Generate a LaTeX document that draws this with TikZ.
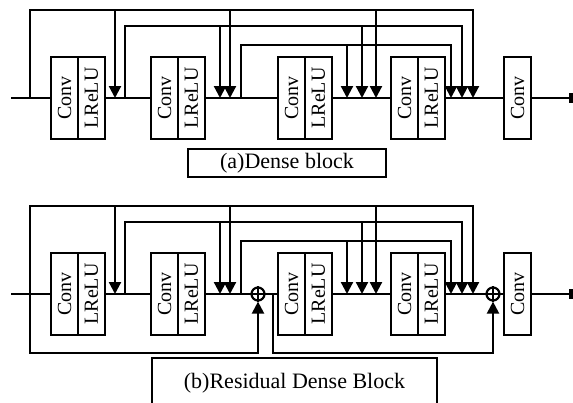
\documentclass[tikz,border=0pt]{standalone}
\usepackage{fontspec}
\setmainfont{Liberation Serif}
\usetikzlibrary{arrows.meta}
\newcommand\drawdense[1]{%
  \node[blk] (#1c1) at (64.5,98)  {\rotatebox{90}{Conv}};
  \node[blk] (#1l1) at (91.5,98)  {\rotatebox{90}{LReLU}};
  \node[blk] (#1c2) at (164.5,98) {\rotatebox{90}{Conv}};
  \node[blk] (#1l2) at (191.5,98) {\rotatebox{90}{LReLU}};
  \node[blk] (#1c3) at (291.5,98) {\rotatebox{90}{Conv}};
  \node[blk] (#1l3) at (318.5,98) {\rotatebox{90}{LReLU}};
  \node[blk] (#1c4) at (404.5,98) {\rotatebox{90}{Conv}};
  \node[blk] (#1l4) at (431.5,98) {\rotatebox{90}{LReLU}};
  \node[blk] (#1c5) at (517.5,98) {\rotatebox{90}{Conv}};
  \coordinate (#1in) at (11,98);
  \coordinate (#1out) at (573,98);
  \coordinate (#1t0) at (30,98);
  \coordinate (#1t1) at (125,98);
  \coordinate (#1t2) at (241,98);
  \coordinate (#1h0) at (0,10);
  \coordinate (#1h1) at (0,26);
  \coordinate (#1h2) at (0,45);
  \foreach \n/\x in {1/115,2/220,3/230,4/347,5/362,6/376,7/451,8/462,9/473}
    {\coordinate (#1a\n) at (\x,98);}
  % outer loop from input
  \draw[arr] (#1t0) |- (#1a9 |- #1h0) -- (#1a9);
  \draw[arr] (#1a1 |- #1h0) -- (#1a1);
  \draw[arr] (#1a3 |- #1h0) -- (#1a3);
  \draw[arr] (#1a6 |- #1h0) -- (#1a6);
  % second loop
  \draw[arr] (#1t1) |- (#1a8 |- #1h1) -- (#1a8);
  \draw[arr] (#1a2 |- #1h1) -- (#1a2);
  \draw[arr] (#1a5 |- #1h1) -- (#1a5);
  % third loop
  \draw[arr] (#1t2) |- (#1a7 |- #1h2) -- (#1a7);
  \draw[arr] (#1a4 |- #1h2) -- (#1a4);
}
\begin{document}
\begin{tikzpicture}[x=1pt,y=-1pt,line width=2.2pt,
  blk/.style={draw,minimum width=27pt,minimum height=82pt,inner sep=0pt,
    font=\fontsize{20}{21}\selectfont},
  arr/.style={-{Triangle[length=12pt,width=12pt]}},
  outarr/.style={-{Rectangle[length=4pt,width=10pt]}},
  lbl/.style={font=\fontsize{22}{24}\selectfont,inner sep=0pt},
  sum/.style={draw,circle,minimum size=13pt,inner sep=0pt}]
\clip (0,0) rectangle (573,402);
% ---------- (a) Dense block ----------
\drawdense{a}
\draw (ain) -- (ac1);
\draw (al1) -- (ac2);
\draw (al2) -- (ac3);
\draw (al3) -- (ac4);
\draw (al4) -- (ac5);
\draw[outarr] (ac5) -- (aout);
\node[lbl,draw,minimum width=198pt,minimum height=28pt] (la) at (287,163) {(a)Dense block};
% ---------- (b) Residual Dense Block ----------
\begin{scope}[yshift=-196pt]
\drawdense{b}
\node[sum] (bp1) at (258,98) {};
\node[sum] (bp2) at (493,98) {};
\draw[line width=1.8pt] (bp1.north) -- (bp1.south) (bp1.west) -- (bp1.east);
\draw[line width=1.8pt] (bp2.north) -- (bp2.south) (bp2.west) -- (bp2.east);
\coordinate (bh3) at (0,157);
\coordinate (bt3) at (273,98);
\draw (bin) -- (bc1);
\draw (bl1) -- (bc2);
\draw (bl2) -- (bp1);
\draw (bp1) -- (bc3);
\draw (bl3) -- (bc4);
\draw (bl4) -- (bp2);
\draw (bp2) -- (bc5);
\draw[outarr] (bc5) -- (bout);
\draw[arr] (bt0) |- (bp1 |- bh3) -- (bp1.south);
\draw[arr] (bt3) |- (bp2 |- bh3) -- (bp2.south);
\end{scope}
\coordinate (bb1) at (152,410);
\coordinate (bb2) at (437,410);
\draw (bb1) |- (437,358) -- (bb2);
\node[lbl] (lb) at (294.5,383) {(b)Residual Dense Block};
\end{tikzpicture}
\end{document}
